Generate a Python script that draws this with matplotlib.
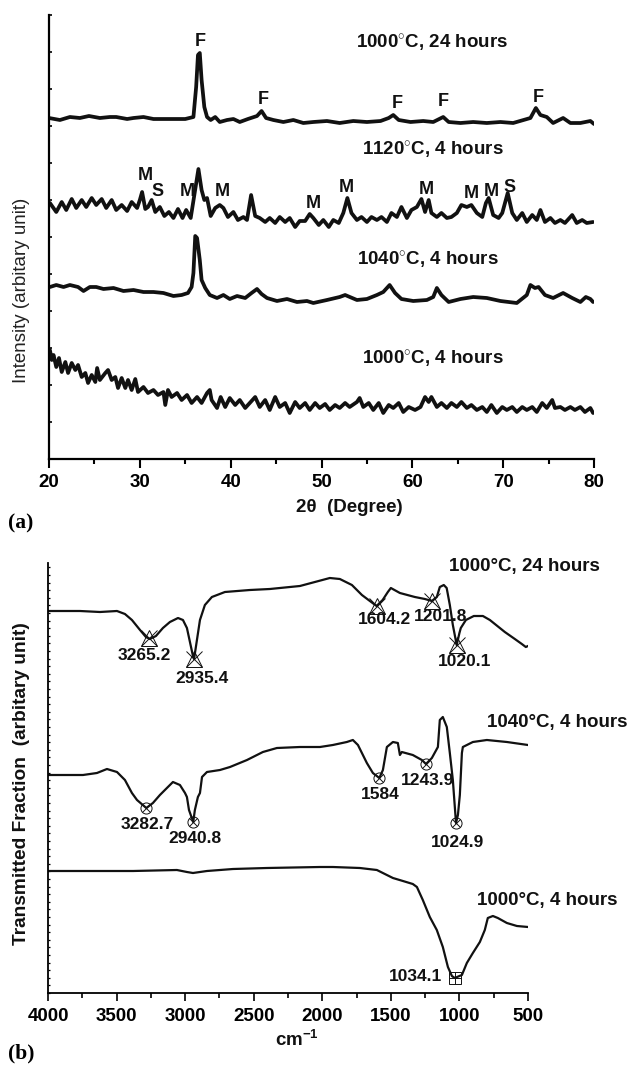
import numpy as np
import matplotlib
matplotlib.use('Agg')
import matplotlib.pyplot as plt
from matplotlib.ticker import MultipleLocator

plt.rcParams['font.family'] = ['Liberation Sans', 'DejaVu Sans']
plt.rcParams['mathtext.fontset'] = 'custom'
plt.rcParams['mathtext.rm'] = 'Liberation Sans'
plt.rcParams['mathtext.bf'] = 'Liberation Sans:bold'
plt.rcParams['mathtext.it'] = 'Liberation Sans:italic'

# ---------------- (a) XRD data ----------------
tt_a = [20.0, 21.2, 22.3, 23.4, 24.4, 25.6, 26.7, 27.4, 28.6, 29.3, 30.4, 31.5, 32.6, 33.7, 35.0, 35.9,
        36.2, 36.4, 36.6, 36.8, 37.1, 37.4, 37.8, 38.3, 38.8, 39.6, 40.3, 41.0, 41.9, 42.9, 43.4, 43.9,
        44.7, 45.8, 46.9, 48.0, 49.1, 50.6, 52.0, 53.5, 55.0, 56.5, 57.4, 57.9, 58.5, 59.8, 61.2, 62.3,
        63.4, 64.0, 65.3, 66.7, 68.2, 69.7, 71.1, 73.0, 73.6, 74.1, 74.8, 75.5, 76.6, 77.4, 78.5, 79.6, 80.0]
int_a = [341, 339, 342, 341, 343, 341, 342, 342, 340, 341, 342, 340, 340, 340, 340, 342,
         372, 404, 406, 379, 352, 342, 339, 342, 337, 339, 340, 337, 340, 343, 348, 341,
         339, 337, 339, 336, 337, 338, 336, 338, 337, 338, 341, 344, 339, 337, 338, 337,
         342, 337, 336, 337, 336, 337, 336, 341, 351, 344, 342, 336, 341, 336, 336, 338, 335]

tt_b = [20.1, 20.8, 21.4, 21.9, 22.5, 23.0, 23.6, 24.1, 24.7, 25.2, 25.8, 26.3, 26.9, 27.4, 28.0, 28.6,
        29.1, 29.7, 30.0, 30.25, 30.6, 30.9, 31.3, 31.7, 32.2, 32.7, 33.2, 33.7, 34.2, 34.7, 35.1, 35.6,
        36.0, 36.45, 36.8, 37.1, 37.4, 37.8, 38.3, 38.8, 39.2, 39.7, 40.3, 40.8, 41.4, 41.8, 42.25, 42.7,
        43.2, 43.8, 44.3, 44.9, 45.4, 46.0, 46.5, 47.1, 47.6, 48.2, 48.7, 49.1, 49.7, 50.2, 50.8, 51.3,
        51.9, 52.4, 52.85, 53.3, 53.9, 54.4, 55.0, 55.5, 56.1, 56.6, 57.2, 57.7, 58.3, 58.8, 59.4, 59.9,
        60.5, 61.0, 61.4, 61.8, 62.1, 62.7, 63.2, 63.8, 64.3, 64.9, 65.4, 66.0, 66.5, 67.1, 67.7, 68.1,
        68.4, 68.9, 69.5, 69.9, 70.5, 71.0, 71.5, 72.1, 72.6, 73.2, 73.7, 74.1, 74.6, 75.2, 75.7, 76.3,
        76.8, 77.6, 78.1, 78.7, 79.2, 79.9]
int_b = [256, 247, 257, 249, 260, 251, 259, 252, 261, 254, 260, 251, 259, 249, 254, 248,
         257, 251, 259, 267, 250, 252, 259, 247, 252, 243, 247, 241, 250, 241, 249, 241,
         264, 290, 269, 259, 261, 243, 251, 254, 251, 242, 247, 239, 242, 239, 264, 243,
         241, 237, 241, 236, 242, 237, 241, 232, 238, 238, 245, 241, 234, 239, 232, 239,
         236, 246, 261, 246, 239, 242, 237, 242, 239, 242, 237, 246, 242, 252, 241, 249,
         252, 260, 247, 259, 246, 242, 246, 241, 242, 246, 254, 252, 254, 246, 242, 256,
         261, 244, 241, 246, 266, 246, 239, 246, 237, 244, 239, 249, 237, 241, 236, 239,
         236, 244, 236, 239, 236, 237]

tt_c = [20.1, 20.8, 21.6, 22.3, 23.2, 23.8, 24.5, 25.2, 26.0, 27.1, 28.2, 29.3, 30.4, 31.5, 32.6, 33.7,
        34.6, 35.3, 35.7, 35.9, 36.1, 36.3, 36.6, 36.8, 37.2, 37.7, 38.5, 39.2, 39.9, 40.7, 41.6, 42.3,
        42.9, 43.4, 44.0, 45.1, 46.2, 47.3, 48.4, 49.1, 50.6, 52.0, 52.6, 53.9, 55.0, 56.1, 56.8, 57.5,
        58.1, 58.8, 60.1, 61.6, 62.3, 62.7, 63.2, 64.0, 65.3, 66.7, 68.2, 69.7, 71.5, 72.6, 73.0, 73.5,
        73.9, 74.6, 75.5, 76.6, 77.6, 78.5, 79.1, 79.6, 79.9]
int_c = [172, 174, 172, 174, 172, 168, 172, 172, 170, 171, 168, 169, 167, 167, 166, 163,
         164, 166, 172, 186, 223, 221, 199, 179, 171, 164, 161, 164, 160, 163, 161, 166,
         170, 165, 161, 158, 160, 157, 158, 156, 159, 162, 164, 159, 160, 164, 167, 174,
         166, 160, 158, 159, 162, 171, 164, 157, 160, 162, 161, 158, 156, 164, 174, 171,
         172, 164, 161, 166, 161, 157, 162, 160, 157]

tt_d = [20.1, 20.3, 20.5, 20.8, 21.1, 21.4, 21.8, 22.1, 22.5, 22.9, 23.2, 23.6, 24.0, 24.3, 24.7, 25.1,
        25.3, 25.6, 26.2, 26.5, 26.9, 27.3, 27.6, 28.0, 28.4, 28.7, 29.1, 29.5, 29.8, 30.4, 30.9, 31.5,
        32.0, 32.6, 32.8, 33.1, 33.5, 34.1, 34.6, 35.2, 35.7, 36.3, 36.8, 37.4, 37.7, 37.9, 38.5, 38.9,
        39.4, 39.9, 40.5, 41.0, 41.6, 42.1, 42.7, 43.2, 43.8, 44.3, 44.9, 45.4, 46.0, 46.5, 47.1, 47.6,
        48.2, 48.7, 49.3, 49.8, 50.4, 50.9, 51.5, 52.0, 52.6, 53.1, 53.9, 54.2, 54.6, 55.2, 55.7, 56.3,
        56.8, 57.4, 57.9, 58.5, 59.0, 59.6, 60.3, 60.9, 61.4, 61.8, 62.1, 62.7, 63.2, 63.8, 64.3, 64.9,
        65.4, 66.0, 66.5, 67.1, 67.7, 68.2, 68.7, 69.3, 69.9, 70.4, 71.0, 71.5, 72.1, 72.6, 73.2, 73.7,
        74.3, 74.8, 75.4, 75.7, 76.3, 76.8, 77.4, 77.9, 78.5, 79.0, 79.6, 79.9]
int_d = [109, 99, 104, 92, 101, 87, 97, 86, 96, 89, 94, 82, 86, 76, 84, 77,
         91, 79, 86, 89, 79, 82, 71, 81, 71, 79, 69, 80, 67, 72, 66, 69,
         64, 67, 54, 69, 62, 66, 59, 64, 56, 62, 56, 66, 69, 59, 51, 62,
         52, 61, 54, 59, 51, 56, 62, 52, 59, 49, 62, 52, 56, 46, 57, 51,
         56, 49, 56, 51, 55, 49, 54, 51, 56, 52, 57, 61, 52, 56, 49, 56,
         46, 54, 51, 56, 47, 52, 49, 52, 62, 57, 62, 52, 56, 51, 56, 52,
         57, 51, 54, 49, 52, 47, 54, 46, 52, 49, 52, 47, 52, 49, 52, 47,
         56, 51, 59, 51, 52, 49, 52, 49, 52, 47, 51, 46]

xrd_labels = ["1000$^{\\circ}$C, 24 hours", "1120$^{\\circ}$C, 4 hours",
              "1040$^{\\circ}$C, 4 hours", "1000$^{\\circ}$C, 4 hours"]
peak_letters = ["F", "F", "F", "F", "F", "M", "S", "M", "M", "M", "M", "M", "M", "M", "S"]
peak_x = [36.6, 43.6, 58.3, 63.4, 73.9, 30.6, 31.9, 35.2, 39.1, 49.1, 52.7, 61.5, 66.5, 68.7, 70.7]
peak_y = [417, 359, 356, 357, 361, 284, 267, 267, 267, 256, 272, 270, 266, 267, 272]

# ---------------- (b) FTIR data ----------------
wn_e = [3993, 3913, 3767, 3621, 3497, 3439, 3388, 3329, 3286, 3257, 3213, 3162, 3111, 3052, 3016, 2987,
        2965, 2943, 2935, 2914, 2892, 2856, 2805, 2710, 2528, 2382, 2236, 2163, 2054, 1945, 1872, 1784,
        1711, 1653, 1604, 1560, 1522, 1500, 1434, 1325, 1252, 1201, 1165, 1143, 1114, 1093, 1070, 1048,
        1020, 1000, 990, 953, 895, 829, 778, 669, 596, 545, 516, 500]
tr_e = [382, 382, 382, 381, 382, 379, 373, 363, 356, 354, 357, 365, 371, 375, 373, 365,
        351, 337, 334, 353, 373, 388, 396, 401, 403, 404, 406, 407, 411, 415, 414, 408,
        398, 392, 387, 393, 401, 405, 400, 396, 394, 392, 396, 406, 408, 405, 388, 368,
        348, 360, 365, 373, 377, 377, 373, 361, 354, 349, 346, 347]

wn_f = [3993, 3745, 3643, 3570, 3497, 3439, 3388, 3351, 3283, 3235, 3184, 3133, 3089, 3038, 3001, 2987,
        2972, 2941, 2929, 2907, 2892, 2877, 2841, 2746, 2673, 2549, 2433, 2331, 2163, 2017, 1923, 1821,
        1777, 1740, 1675, 1631, 1584, 1558, 1529, 1485, 1449, 1434, 1420, 1340, 1274, 1244, 1201, 1157,
        1143, 1121, 1092, 1070, 1048, 1025, 1011, 997, 982, 975, 902, 800, 654, 500]
tr_f = [218, 218, 220, 224, 221, 213, 200, 193, 185, 190, 198, 205, 211, 208, 200, 196,
        183, 171, 183, 196, 200, 216, 221, 223, 226, 233, 241, 245, 246, 246, 248, 251,
        253, 248, 230, 220, 215, 223, 246, 251, 250, 238, 241, 238, 233, 229, 235, 246,
        273, 276, 266, 240, 213, 170, 178, 198, 240, 246, 251, 253, 251, 248]

wn_g = [4000, 3380, 3060, 2987, 2943, 2841, 2651, 2404, 2017, 1923, 1726, 1602, 1529, 1485, 1412, 1340,
        1310, 1267, 1216, 1165, 1121, 1084, 1055, 1034, 1000, 982, 946, 902, 851, 815, 793, 756,
        720, 654, 581, 500]
tr_g = [122, 122, 123, 121, 120, 122, 124, 125, 126, 126, 125, 123, 118, 115, 112, 109,
        106, 93, 76, 63, 46, 26, 17, 15, 17, 18, 30, 40, 51, 63, 75, 77,
        75, 70, 67, 66]

ftir_labels = ["1000°C, 24 hours", "1040°C, 4 hours", "1000°C, 4 hours"]
peaks_e = [3265.2, 2935.4, 1604.2, 1201.8, 1020.1]
peaks_f = [3282.7, 2940.8, 1584, 1243.9, 1024.9]
peaks_g = [1034.1]

# ---------------- figure ----------------
W, H = 631, 1065
fig = plt.figure(figsize=(W / 100, H / 100), dpi=100)
INK = '#111111'

# ---- panel (a)
ax1 = fig.add_axes([49 / W, 1 - 459 / H, (594 - 49) / W, (459 - 15) / H])
for tt, it in [(tt_a, int_a), (tt_b, int_b), (tt_c, int_c), (tt_d, int_d)]:
    ax1.plot(tt, it, color=INK, lw=2.7, solid_joinstyle='round', solid_capstyle='round')
ax1.set_xlim(20, 80)
ax1.set_ylim(0, 444)
for s in ['top', 'right']:
    ax1.spines[s].set_visible(False)
for s in ['left', 'bottom']:
    ax1.spines[s].set_linewidth(1.6)
ax1.xaxis.set_major_locator(MultipleLocator(10))
ax1.xaxis.set_minor_locator(MultipleLocator(5))
ax1.yaxis.set_major_locator(MultipleLocator(37))
ax1.tick_params(axis='x', which='major', direction='out', length=6.5, width=1.5, pad=4.5,
                labelsize=13.5)
ax1.tick_params(axis='x', which='minor', direction='out', length=3.5, width=1.5)
ax1.tick_params(axis='y', which='major', direction='in', length=2.5, width=1.2, labelleft=False)
for lab in ax1.get_xticklabels():
    lab.set_fontweight('bold')

label_pos_a = [(62.2, 416), (62.3, 309), (61.7, 199), (62.3, 100)]
for txt, (x, y) in zip(xrd_labels, label_pos_a):
    ax1.text(x, y, txt, ha='center', va='center', fontsize=13.5, fontweight='bold', color=INK)
for letter, x, y in zip(peak_letters, peak_x, peak_y):
    ax1.text(x, y, letter, ha='center', va='center', fontsize=13, fontweight='bold', color=INK)

fig.text(22 / W, 1 - 290 / H, 'Intensity (arbitary unit)', rotation=90, ha='center', va='center',
         fontsize=13.5, color='#222222')
fig.text(349 / W, 1 - 507 / H, '2θ  (Degree)', ha='center', va='center', fontsize=13.5,
         fontweight='bold', color=INK)
fig.text(8 / W, 1 - 523 / H, '(a)', ha='left', va='center', fontsize=15.5, fontweight='bold',
         family='Liberation Serif')

# ---- panel (b)
ax2 = fig.add_axes([48 / W, 1 - 993 / H, (528 - 48) / W, (993 - 563) / H])
for wn, tr in [(wn_e, tr_e), (wn_f, tr_f), (wn_g, tr_g)]:
    ax2.plot(wn, tr, color=INK, lw=1.6, solid_joinstyle='round')
ax2.set_xlim(4000, 500)
ax2.set_ylim(0, 430)
for s in ['top', 'right']:
    ax2.spines[s].set_visible(False)
for s in ['left', 'bottom']:
    ax2.spines[s].set_linewidth(1.3)
ax2.xaxis.set_major_locator(MultipleLocator(500))
ax2.xaxis.set_minor_locator(MultipleLocator(250))
ax2.yaxis.set_major_locator(MultipleLocator(7.6))
ax2.tick_params(axis='x', which='major', direction='out', length=6, width=1.2, pad=5, labelsize=13.5)
ax2.tick_params(axis='x', which='minor', direction='out', length=3.5, width=1.2)
ax2.tick_params(axis='y', which='major', direction='in', length=1.6, width=0.9, labelleft=False)
for lab in ax2.get_xticklabels():
    lab.set_fontweight('bold')


def on_curve(wn, tr, p):
    return float(np.interp(p, wn[::-1], tr[::-1]))


mk = dict(color=INK, mfc='none', mew=0.7, ls='none', zorder=4)
# 1000 C 24 h : triangle + cross
for p in peaks_e:
    y = on_curve(wn_e, tr_e, p)
    ax2.plot([p], [y], marker='^', ms=11, **mk)
    ax2.plot([p], [y], marker='x', ms=12, **mk)
# 1040 C 4 h : circle + cross
for p in peaks_f:
    y = on_curve(wn_f, tr_f, p)
    ax2.plot([p], [y], marker='o', ms=8, **mk)
    ax2.plot([p], [y], marker='x', ms=6, **mk)
# 1000 C 4 h : square + plus
for p in peaks_g:
    y = on_curve(wn_g, tr_g, p)
    ax2.plot([p], [y], marker='s', ms=8.5, **mk)
    ax2.plot([p], [y], marker='+', ms=8.5, **mk)

off_e = [(-3, -12), (6, -14), (6, -10), (6, -11), (6, -12)]
off_f = [(1, -12), (1, -12), (1, -12), (1, -12), (1, -14)]
for peaks, wn, tr, offs in [(peaks_e, wn_e, tr_e, off_e), (peaks_f, wn_f, tr_f, off_f)]:
    for p, o in zip(peaks, offs):
        y = on_curve(wn, tr, p)
        ax2.annotate(f'{p:g}' if p != int(p) else f'{int(p)}', (p, y), xytext=o,
                     textcoords='offset points', ha='center', va='center', fontsize=12.5,
                     fontweight='bold', color=INK)
for p in peaks_g:
    y = on_curve(wn_g, tr_g, p)
    ax2.annotate(f'{p:g}', (p, y), xytext=(-9, 1), textcoords='offset points', ha='right',
                 va='center', fontsize=12.5, fontweight='bold', color=INK)

label_pos_b = [(523, 426), (290, 270), (363, 92)]
for txt, (x, y) in zip(ftir_labels, label_pos_b):
    ax2.text(x, y, txt, ha='center', va='center', fontsize=13.5, fontweight='bold', color=INK)

fig.text(22 / W, 1 - 784 / H, 'Transmitted Fraction  (arbitary unit)', rotation=90, ha='center',
         va='center', fontsize=13.8, fontweight='bold', color=INK)
fig.text(297 / W, 1 - 1040 / H, r'cm$^{\mathbf{-1}}$', ha='center', va='center', fontsize=13.5,
         fontweight='bold', color=INK)
fig.text(8 / W, 1 - 1053 / H, '(b)', ha='left', va='center', fontsize=15.5, fontweight='bold',
         family='Liberation Serif')

fig.savefig('out.png', dpi=100)
